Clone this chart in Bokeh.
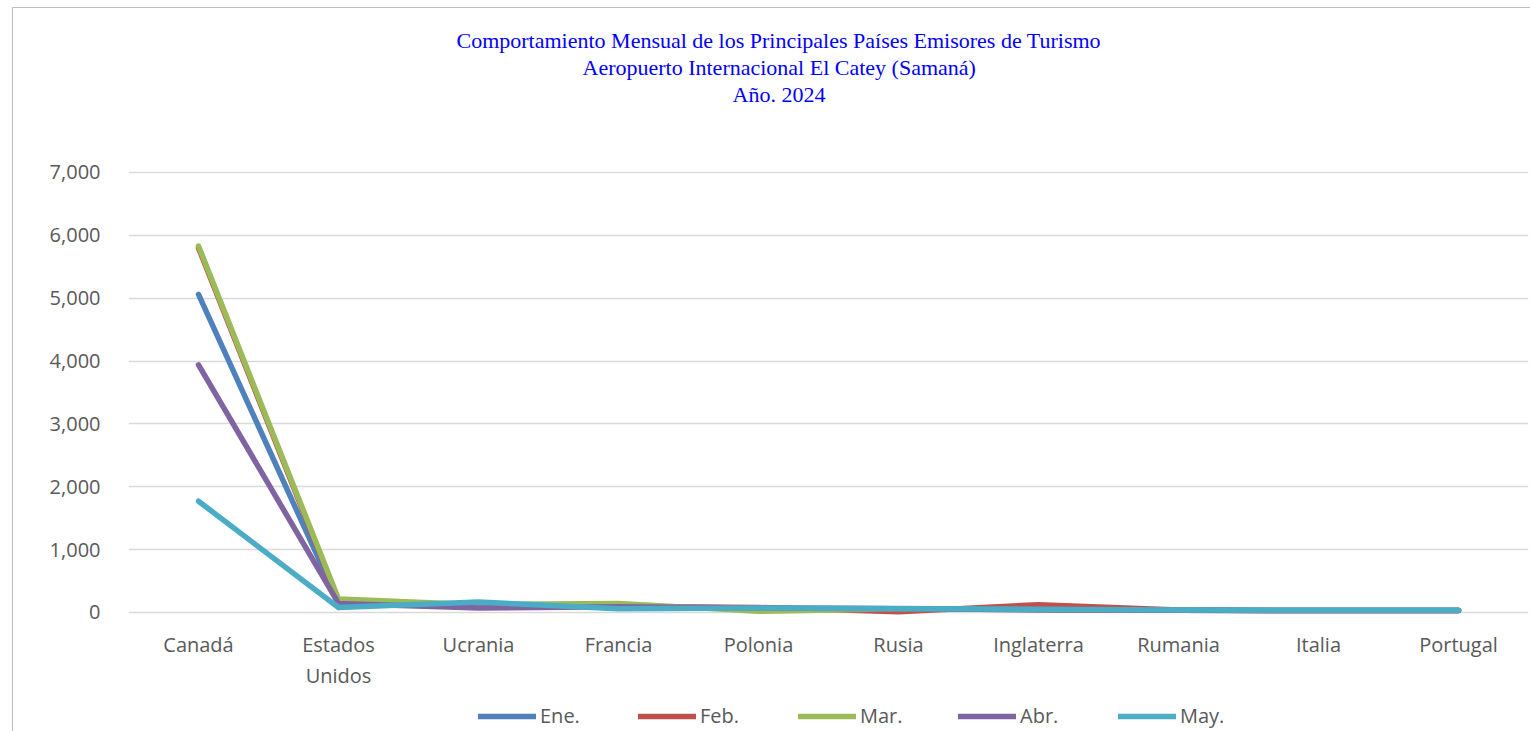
from bokeh.plotting import figure
from bokeh.models import (FactorRange, Legend, LegendItem, NumeralTickFormatter, FixedTicker, Title)
from bokeh.core.properties import value
from bokeh.embed import file_html
from bokeh.resources import INLINE

countries = ["Canadá", "Estados\nUnidos", "Ucrania", "Francia", "Polonia", "Rusia",
             "Inglaterra", "Rumania", "Italia", "Portugal"]
months = ["Ene.", "Feb.", "Mar.", "Abr.", "May."]
ene = [5060, 160, 100, 90, 65, 60, 45, 35, 30, 30]
feb = [5800, 190, 110, 95, 80, 10, 125, 40, 30, 30]
mar = [5830, 215, 125, 145, 20, 60, 45, 35, 30, 30]
abr = [3940, 145, 70, 90, 70, 60, 45, 35, 30, 30]
may = [1770, 80, 165, 60, 70, 65, 50, 40, 35, 35]
series = [ene, feb, mar, abr, may]
colors = ["#4F81BD", "#C0504D", "#9BBB59", "#8064A2", "#4BACC6"]
y_ticks = [0, 1000, 2000, 3000, 4000, 5000, 6000, 7000]
title_lines = ["Comportamiento Mensual de los Principales Países Emisores de Turismo",
               "Aeropuerto Internacional El Catey (Samaná)",
               "Año. 2024"]

# the frame reaches below zero so that category labels and legend sit inside it
Y_BOTTOM = -1909
LABEL_Y = -302

p = figure(frame_width=1400, frame_height=561, x_range=FactorRange(*countries, range_padding=0),
           y_range=(Y_BOTTOM, 7015), output_backend="svg", toolbar_location=None,
           min_border_left=115, min_border_right=3, min_border_top=163, min_border_bottom=0)
p.margin = (7, 0, 0, 12)
p.styles = {"border-left": "1px solid #BFBFBF", "border-top": "1px solid #BFBFBF"}

p.outline_line_color = None
p.xgrid.grid_line_color = None
p.ygrid.grid_line_color = "#D9D9D9"
p.ygrid.grid_line_width = 1.5
p.xaxis.visible = False

p.yaxis.ticker = FixedTicker(ticks=y_ticks)
p.ygrid.ticker = FixedTicker(ticks=y_ticks)
p.yaxis.formatter = NumeralTickFormatter(format="0,0")
p.yaxis.axis_line_color = None
p.yaxis.major_tick_line_color = None
p.yaxis.minor_tick_line_color = None
p.yaxis.major_label_text_font = "Open Sans"
p.yaxis.major_label_text_font_size = "20px"
p.yaxis.major_label_text_color = "#595959"
p.yaxis.major_label_standoff = 22

# category labels
p.text(x=countries, y=[LABEL_Y] * len(countries), text=countries, text_align="center",
       text_baseline="top", text_font=value("Open Sans"), text_font_size="20px",
       text_color="#595959", text_line_height=1.12)

items = []
for name, vals, c in zip(months, series, colors):
    r = p.line(countries, vals, line_color=c, line_width=5.5, line_cap="round", line_join="round")
    items.append(LegendItem(label=name, renderers=[r]))

legend = Legend(items=items, orientation="horizontal", location=(350, 3),
                glyph_width=58, glyph_height=20, label_standoff=4, label_width=90, spacing=8,
                label_text_font="Open Sans", label_text_font_size="20px",
                label_text_color="#595959", border_line_color=None, background_fill_alpha=0,
                margin=0, padding=0)
p.add_layout(legend)

# spacer between the title block and the plot area
p.add_layout(Title(text=" ", standoff=38, text_font="Liberation Serif",
                   text_font_size="22px", text_line_height=1.0), "above")
for line, off in zip(reversed(title_lines), [604, 454, 328]):
    p.add_layout(Title(text=line, align="left", offset=off, standoff=0,
                       text_font="Liberation Serif", text_font_style="normal",
                       text_font_size="22px", text_color="#0000FF", text_line_height=1.0), "above")

open("out.html", "w").write(file_html(p, INLINE))
